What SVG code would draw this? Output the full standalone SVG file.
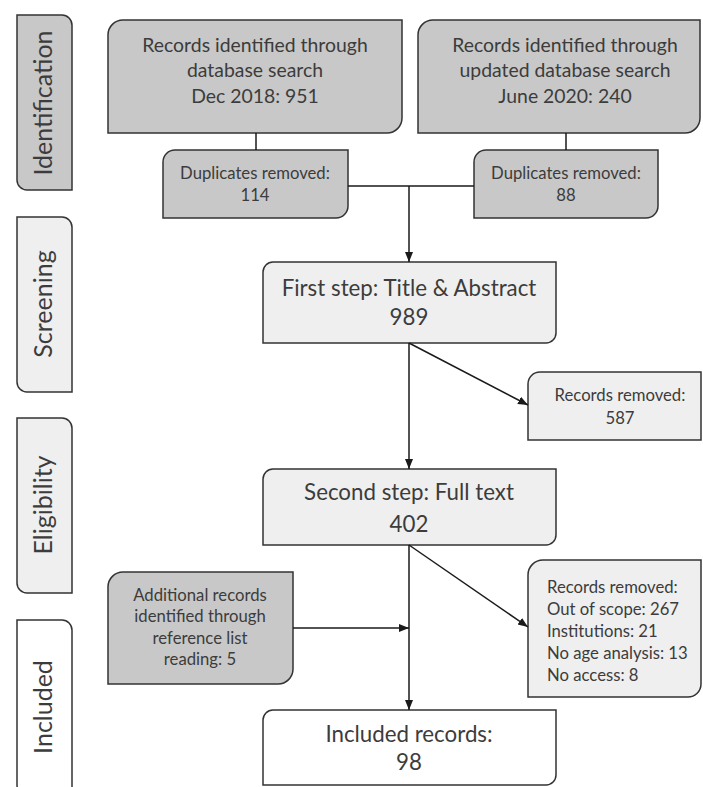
<svg xmlns="http://www.w3.org/2000/svg" width="703" height="787" viewBox="0 0 703 787">
<defs>
<marker id="ah" viewBox="0 0 10 10" refX="10" refY="5" markerWidth="10" markerHeight="10" markerUnits="userSpaceOnUse" orient="auto">
<path d="M0,1 L10,5 L0,9 Z" fill="#1a1a1a"/>
</marker>
</defs>
<style>
.dk{fill:#c8c8c8;stroke:#333;stroke-width:1.5}
.lt{fill:#efefef;stroke:#333;stroke-width:1.5}
.wh{fill:#ffffff;stroke:#333;stroke-width:1.5}
text{font-family:Lato,"Open Sans","Liberation Sans",sans-serif;fill:#3c3c3c}
.big{font-size:19.4px;text-anchor:middle}
.mid{font-size:22.3px;text-anchor:middle}
.sm{font-size:16.7px;text-anchor:middle}
.lf{font-size:16.7px}
.side{font-size:25px;text-anchor:middle}
.ln{fill:none;stroke:#1a1a1a;stroke-width:1.5}
</style>
<g id="tab-identification">
<path class="dk" d="M17,15 H62 A10,10 0 0 1 72,25 V190 H27 A10,10 0 0 1 17,180 Z"/>
<text class="side" transform="translate(52,103) rotate(-90)">Identification</text>
</g>
<g id="tab-screening">
<path class="lt" d="M17,217 H62 A10,10 0 0 1 72,227 V392 H27 A10,10 0 0 1 17,382 Z"/>
<text class="side" transform="translate(52,304) rotate(-90)">Screening</text>
</g>
<g id="tab-eligibility">
<path class="lt" d="M17,418 H62 A10,10 0 0 1 72,428 V593 H27 A10,10 0 0 1 17,583 Z"/>
<text class="side" transform="translate(52,505) rotate(-90)">Eligibility</text>
</g>
<g id="tab-included">
<path class="wh" d="M17,620 H62 A10,10 0 0 1 72,630 V795 H27 A10,10 0 0 1 17,785 Z"/>
<text class="side" transform="translate(52,707) rotate(-90)">Included</text>
</g>
<g id="db-search">
<path class="dk" d="M123,20 H402 V118 A15,15 0 0 1 387,133 H108 V35 A15,15 0 0 1 123,20 Z"/>
<text class="big" x="255" y="52">Records identified through</text>
<text class="big" x="255" y="77">database search</text>
<text class="big" x="255" y="103">Dec 2018: 951</text>
</g>
<g id="db-update">
<path class="dk" d="M433,20 H700 V118 A15,15 0 0 1 685,133 H418 V35 A15,15 0 0 1 433,20 Z"/>
<text class="big" x="565" y="52">Records identified through</text>
<text class="big" x="565" y="77">updated database search</text>
<text class="big" x="565" y="103">June 2020: 240</text>
</g>
<g id="dup1">
<path class="dk" d="M175,150 H348 V206 A12,12 0 0 1 336,218 H163 V162 A12,12 0 0 1 175,150 Z"/>
<text class="sm" x="255" y="179">Duplicates removed:</text>
<text class="sm" x="255" y="201">114</text>
</g>
<g id="dup2">
<path class="dk" d="M486,150 H658 V206 A12,12 0 0 1 646,218 H474 V162 A12,12 0 0 1 486,150 Z"/>
<text class="sm" x="566" y="179">Duplicates removed:</text>
<text class="sm" x="566" y="201">88</text>
</g>
<g id="first-step">
<path class="lt" d="M273,262 H556 V333 A10,10 0 0 1 546,343 H263 V272 A10,10 0 0 1 273,262 Z"/>
<text class="mid" x="409" y="296">First step: Title &amp; Abstract</text>
<text class="mid" x="409" y="325">989</text>
</g>
<g id="removed1">
<path class="lt" d="M540,372 H701 V440 H528 V384 A12,12 0 0 1 540,372 Z"/>
<text class="sm" x="620" y="401">Records removed:</text>
<text class="sm" x="620" y="424">587</text>
</g>
<g id="second-step">
<path class="lt" d="M273,469 H556 V535 A10,10 0 0 1 546,545 H263 V479 A10,10 0 0 1 273,469 Z"/>
<text class="mid" x="409" y="500">Second step: Full text</text>
<text class="mid" x="409" y="532">402</text>
</g>
<g id="removed2">
<path class="lt" d="M543,560 H701 V684 A13,13 0 0 1 688,697 H528 V575 A15,15 0 0 1 543,560 Z"/>
<text class="lf" x="547" y="593">Records removed:</text>
<text class="lf" x="547" y="615">Out of scope: 267</text>
<text class="lf" x="547" y="637">Institutions: 21</text>
<text class="lf" x="547" y="659">No age analysis: 13</text>
<text class="lf" x="547" y="681">No access: 8</text>
</g>
<g id="additional">
<path class="dk" d="M123,572 H293 V669 A15,15 0 0 1 278,684 H108 V587 A15,15 0 0 1 123,572 Z"/>
<text class="sm" x="200" y="601">Additional records</text>
<text class="sm" x="200" y="622">identified through</text>
<text class="sm" x="200" y="644">reference list</text>
<text class="sm" x="200" y="665">reading: 5</text>
</g>
<g id="included">
<path class="wh" d="M273,710 H556 V775 A10,10 0 0 1 546,785 H263 V720 A10,10 0 0 1 273,710 Z"/>
<text class="mid" x="409" y="742">Included records:</text>
<text class="mid" x="409" y="770">98</text>
</g>
<g id="connectors">
<line class="ln" x1="256" y1="133" x2="256" y2="150"/>
<line class="ln" x1="566" y1="133" x2="566" y2="150"/>
<line class="ln" x1="348" y1="186" x2="474" y2="186"/>
<line class="ln" x1="409" y1="186" x2="409" y2="262" marker-end="url(#ah)"/>
<line class="ln" x1="409" y1="343" x2="409" y2="469" marker-end="url(#ah)"/>
<line class="ln" x1="409" y1="343" x2="528" y2="405" marker-end="url(#ah)"/>
<line class="ln" x1="409" y1="545" x2="409" y2="710" marker-end="url(#ah)"/>
<line class="ln" x1="409" y1="545" x2="528" y2="627" marker-end="url(#ah)"/>
<line class="ln" x1="293" y1="628" x2="409" y2="628" marker-end="url(#ah)"/>
</g>
</svg>
